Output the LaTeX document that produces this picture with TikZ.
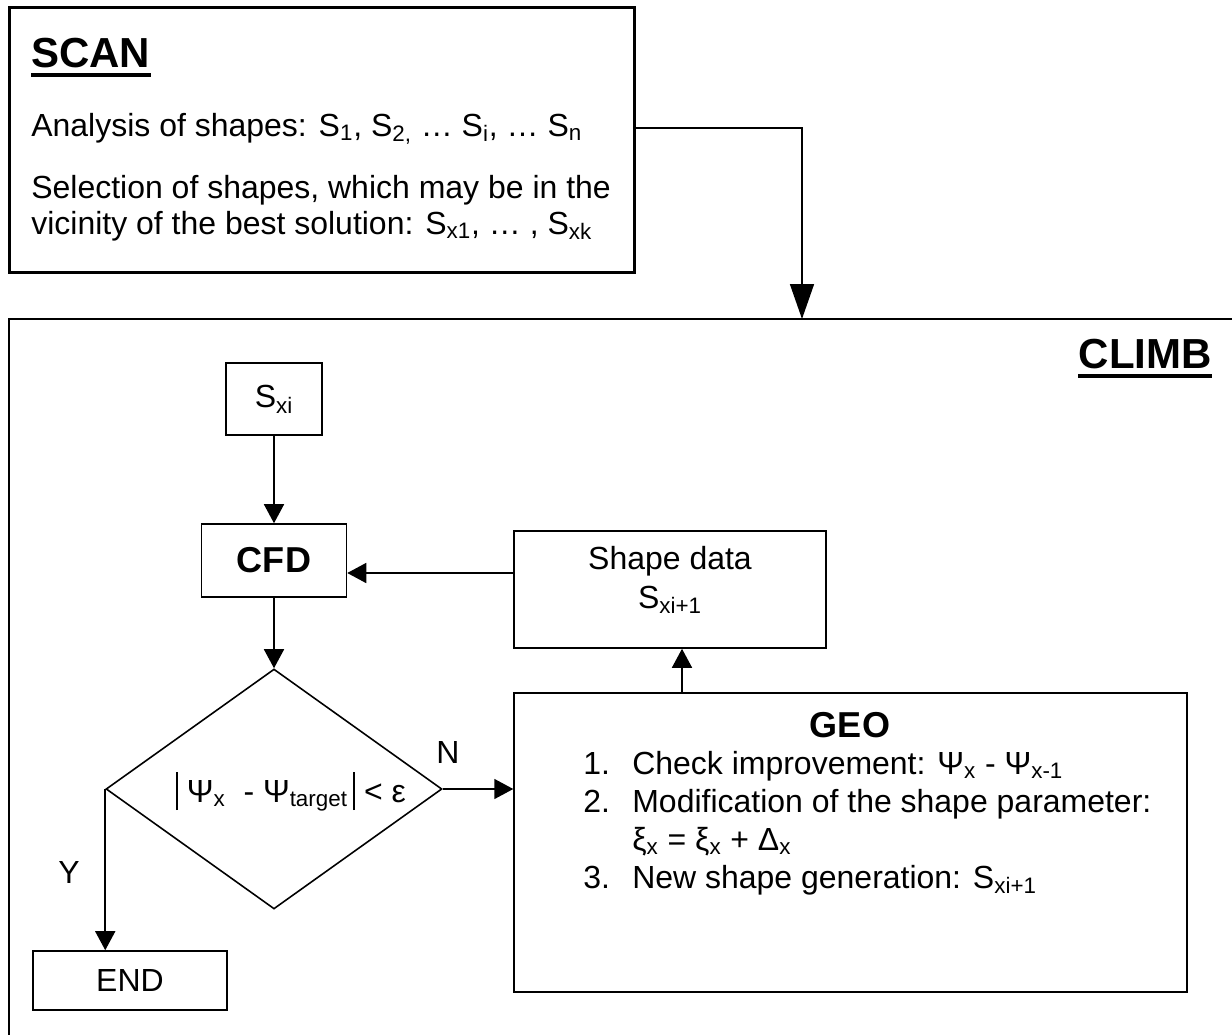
\documentclass[tikz,border=0pt]{standalone}
\usepackage{fontspec}
\setmainfont{Liberation Sans}
\usetikzlibrary{arrows.meta,shapes.geometric}

\begin{document}
\begin{tikzpicture}[x=0.02cm,y=-0.02cm,font=\fontsize{18.2}{22}\selectfont]
	\tikzstyle{block}=[draw,line width=0.9pt,rectangle,inner sep=0pt]
	\tikzstyle{heavy}=[draw,line width=1.7pt]
	\tikzstyle{decision}=[draw,line width=0.9pt,diamond,inner sep=0pt,minimum width=6.72cm,minimum height=4.8cm]
	\tikzstyle{flow}=[draw,line width=0.9pt,-{Triangle[width=0.4cm,length=0.38cm]}]
	\tikzstyle{headline}=[inner sep=0pt,font=\fontsize{23.9}{28}\selectfont\bfseries]
	\tikzstyle{boldbox}=[font=\fontsize{20.5}{24}\selectfont\bfseries]
	\tikzstyle{txt}=[inner sep=0pt,anchor=base west]

	\useasboundingbox (0,0) rectangle (1232,1035);

	% SCAN part
	\node[block,heavy,minimum width=12.52cm,minimum height=5.32cm] (scan) at (322,140) {};
	\node[headline,anchor=base west] (scantitle) at (31,67) {SCAN};
	\draw[line width=2.3pt] ([yshift=-4.3pt]scantitle.base west) -- ([yshift=-4.3pt]scantitle.base east);
	\node[txt] (analysis) at (31,136) {Analysis of shapes: S\textsubscript{1}, S\textsubscript{2,} … S\textsubscript{i}, … S\textsubscript{n}};
	\node[txt] (selection) at (31,198) {Selection of shapes, which may be in the};
	\node[txt] (vicinity) at (31,234) {vicinity of the best solution: S\textsubscript{x1}, … , S\textsubscript{xk}};

	% CLIMB part
	\draw[heavy] (9,1050) -- (9,319) -- (1250,319);
	\node[headline,anchor=base east] (climbtitle) at (1212,368) {CLIMB};
	\draw[line width=2.3pt] ([yshift=-4.3pt]climbtitle.base west) -- ([yshift=-4.3pt]climbtitle.base east);

	\coordinate (bend) at (802,128);
	\coordinate (climbtop) at (802,319);
	\draw[flow,-{Triangle[width=0.48cm,length=0.7cm]}] (bend -| scan.east) -- (bend) -- (climbtop);

	\node[block,minimum width=1.92cm,minimum height=1.44cm] (sxi) at (274,399) {S\textsubscript{xi}};
	\node[block,boldbox,minimum width=2.9cm,minimum height=1.46cm] (cfd) at (274,560.5) {CFD};
	\node[block,minimum width=6.24cm,minimum height=2.34cm] (shapedata) at (670,589.5) {};
	\node[align=center,inner sep=0pt] (sdtext) at (670,580) {Shape data\\S\textsubscript{xi+1}};
	\node[decision] (test) at (274,789) {};
	\node[inner sep=0pt] (crit) at (291,792) {\rule[-4.5pt]{1.1pt}{21.5pt}\ Ψ\textsubscript{x}\ \ - Ψ\textsubscript{target}\,\rule[-4.5pt]{1.1pt}{21.5pt}\ < ε};
	\node[block,minimum width=13.46cm,minimum height=5.98cm] (geo) at (850.5,842.5) {};
	\node[block,minimum width=3.88cm,minimum height=1.18cm] (end) at (130,980.5) {END};

	% GEO list
	\node[boldbox,inner sep=0pt,anchor=base] (geotitle) at (850,737) {GEO};
	\foreach \n/\y in {1/774,2/812,3/888}
		\node[txt] (num\n) at (583,\y) {\n.};
	\node[txt] (check) at (632,774) {Check improvement: Ψ\textsubscript{x} - Ψ\textsubscript{x-1}};
	\node[txt] (modif) at (632,812) {Modification of the shape parameter:};
	\node[txt] (update) at (632,850) {ξ\textsubscript{x} = ξ\textsubscript{x} + Δ\textsubscript{x}};
	\node[txt] (newshape) at (632,888) {New shape generation: S\textsubscript{xi+1}};

	\node[inner sep=0pt] (nlabel) at (448,752) {N};
	\node[inner sep=0pt] (ylabel) at (69,872) {Y};

	\coordinate (fb) at (0,573);
	\coordinate (up) at (682,0);
	\draw[flow] (sxi.south) -- (cfd.north);
	\draw[flow] (shapedata.west |- fb) -- (cfd.east |- fb);
	\draw[flow] (cfd.south) -- (test.north);
	\draw[flow] (test.east) -- (test.east -| geo.west);
	\draw[flow] (geo.north -| up) -- (shapedata.south -| up);
	\draw[flow] (test.west) -- (test.west |- end.north);
\end{tikzpicture}
\end{document}
